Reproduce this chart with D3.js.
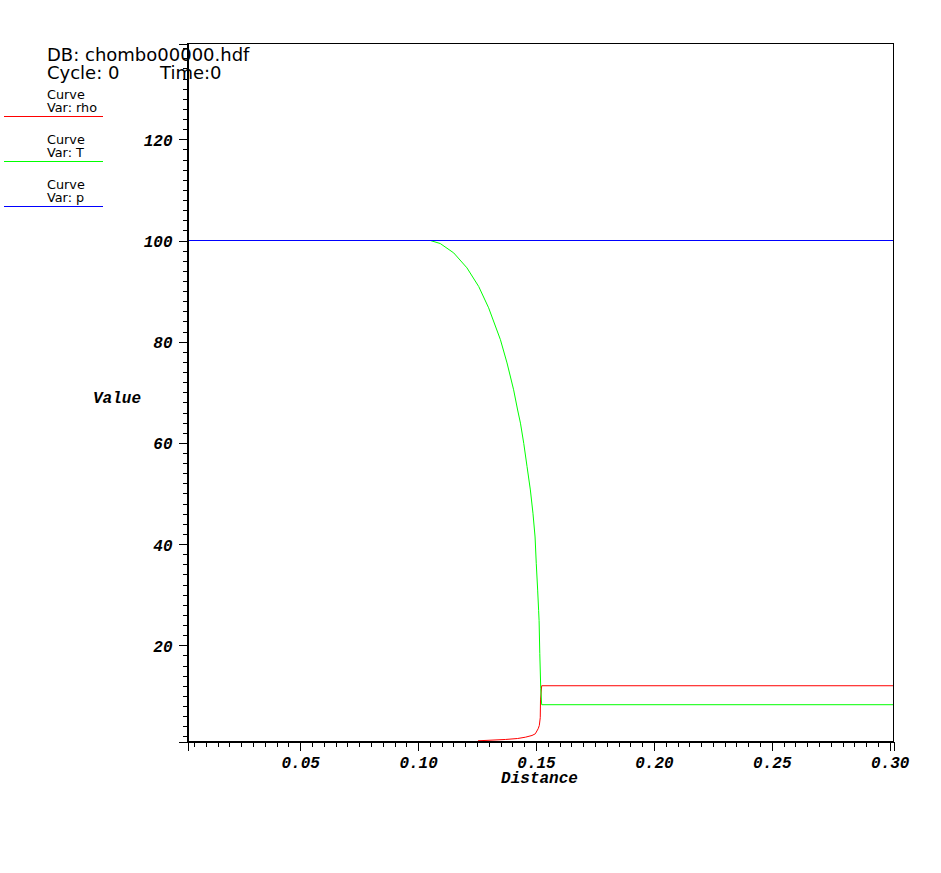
<!DOCTYPE html>
<html>
<head>
<meta charset="utf-8">
<script src="https://cdn.jsdelivr.net/npm/d3@7"></script>
<style>
  html, body { margin: 0; padding: 0; background: #fff; }
  svg { display: block; }
</style>
</head>
<body>
<script>
// ---- Data ----
const seriesNames = ["rho", "T", "p"];
const seriesColors = ["#ff0000", "#00ff00", "#0000ff"];

const rhoX = [0.1254, 0.1370, 0.1422, 0.1455, 0.1483, 0.1497, 0.1509, 0.1514, 0.1518, 0.1519, 0.1524, 0.3016];
const rhoY = [1.12, 1.38, 1.57, 1.83, 2.17, 2.5, 3.5, 4.15, 5.7, 9.2, 12.0, 12.0];

const tX = [0.0022, 0.1052, 0.1094, 0.1151, 0.1207, 0.1257, 0.1299, 0.1349, 0.1377, 0.1405, 0.1422, 0.1434, 0.1448, 0.1462, 0.1476, 0.1487, 0.1496, 0.1501, 0.1507, 0.1511, 0.1513, 0.1516, 0.1520, 0.1524, 0.3016];
const tY = [100, 100, 99.4, 97.55, 94.6, 90.9, 86.7, 80.4, 75.8, 70.5, 66.5, 63.9, 59.9, 55.3, 50.7, 46.1, 41.4, 36.2, 30.9, 26.9, 24.9, 18.4, 11.5, 8.25, 8.25];

const pX = [0.0022, 0.3016];
const pY = [100, 100];

const xTicks = [0.05, 0.10, 0.15, 0.20, 0.25, 0.30];
const xTickLabels = ["0.05", "0.10", "0.15", "0.20", "0.25", "0.30"];
const yTicks = [20, 40, 60, 80, 100, 120];
const yTickLabels = ["20", "40", "60", "80", "100", "120"];
const xDomain = [0.0022, 0.3016];
const yDomain = [0.98, 138.94];

// ---- Layout ----
const W = 941, H = 873;
const mLeft = 187.5, mRight = 893.5, mTop = 43.5, mBottom = 741.5;

const svg = d3.select("body").append("svg").attr("width", W).attr("height", H);

const x = d3.scaleLinear().domain(xDomain).range([mLeft, mRight]);
const y = d3.scaleLinear().domain(yDomain).range([mBottom, mTop]);

const line = d3.line().x(d => x(d[0])).y(d => y(d[1]));

const series = [
  d3.zip(rhoX, rhoY),
  d3.zip(tX, tY),
  d3.zip(pX, pY)
];

const plot = svg.append("g");
series.forEach((s, i) => {
  plot.append("path")
    .datum(s)
    .attr("fill", "none")
    .attr("stroke", seriesColors[i])
    .attr("stroke-width", 1)
    .attr("d", line);
});

// ---- Frame ----
svg.append("rect")
  .attr("x", mLeft).attr("y", mTop)
  .attr("width", mRight - mLeft).attr("height", mBottom - mTop)
  .attr("fill", "none").attr("stroke", "#000").attr("stroke-width", 1)
  .attr("shape-rendering", "crispEdges");

const tickFont = "bold italic 16px 'Liberation Mono', 'Courier New', monospace";

// ---- Y axis ----
const yMinor = svg.append("g").attr("transform", `translate(${mLeft},0)`)
  .call(d3.axisLeft(y).tickValues(d3.range(2, 139, 2)).tickSize(5).tickFormat(""));
const yMajor = svg.append("g").attr("transform", `translate(${mLeft},0)`)
  .call(d3.axisLeft(y).tickValues(yTicks).tickSize(9).tickPadding(6)
    .tickFormat((d, i) => yTickLabels[i]));

// ---- X axis ----
const xMinor = svg.append("g").attr("transform", `translate(0,${mBottom})`)
  .call(d3.axisBottom(x).tickValues(d3.range(0.005, 0.3016, 0.005)).tickSize(5).tickFormat(""));
const xMajor = svg.append("g").attr("transform", `translate(0,${mBottom})`)
  .call(d3.axisBottom(x).tickValues(xTicks).tickSize(9).tickPadding(8)
    .tickFormat((d, i) => xTickLabels[i]));

[yMinor, yMajor, xMinor, xMajor].forEach(g => {
  g.select(".domain").attr("stroke", "#000").attr("shape-rendering", "crispEdges");
  g.selectAll(".tick line").attr("stroke", "#000").attr("shape-rendering", "crispEdges");
  g.selectAll(".tick text").style("font", tickFont).attr("fill", "#000");
});
yMajor.selectAll(".tick text").attr("dy", "0.38em");
xMajor.selectAll(".tick text").attr("dy", "0.57em");

// ---- Axis titles ----
svg.append("text").attr("x", (mLeft + mRight) / 2 - 1).attr("y", 783)
  .attr("text-anchor", "middle").style("font", tickFont).text("Distance");
svg.append("text").attr("x", 93).attr("y", 403)
  .attr("text-anchor", "start").style("font", tickFont).text("Value");

// ---- Header text ----
const sans = "'DejaVu Sans', Verdana, sans-serif";
svg.append("text").attr("x", 47).attr("y", 61)
  .style("font-family", sans).style("font-size", "18px").text("DB: chombo00000.hdf");
svg.append("text").attr("x", 47).attr("y", 78.5)
  .style("font-family", sans).style("font-size", "18px").text("Cycle: 0");
svg.append("text").attr("x", 160).attr("y", 78.5)
  .style("font-family", sans).style("font-size", "18px").text("Time:0");

// ---- Legend ----
const legendY0 = 98.5, legendStep = 45;
seriesNames.forEach((name, i) => {
  const by = legendY0 + i * legendStep;
  svg.append("text").attr("x", 47).attr("y", by)
    .style("font-family", sans).style("font-size", "12.8px").text("Curve");
  svg.append("text").attr("x", 47).attr("y", by + 13.5)
    .style("font-family", sans).style("font-size", "12.8px").text("Var: " + name);
  svg.append("line")
    .attr("x1", 4).attr("x2", 103)
    .attr("y1", by + 17.5).attr("y2", by + 17.5)
    .attr("stroke", seriesColors[i]).attr("stroke-width", 1)
    .attr("shape-rendering", "crispEdges");
});
</script>
</body>
</html>
